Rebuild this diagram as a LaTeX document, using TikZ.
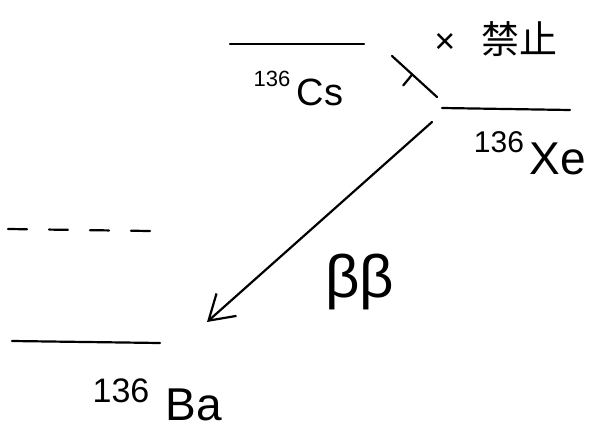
\documentclass[tikz,border=0pt]{standalone}
\usepackage{fontspec}
\setmainfont{Liberation Sans}
\newfontfamily\cjk{Noto Sans CJK SC}
\usetikzlibrary{arrows.meta,calc}
\begin{document}
\begin{tikzpicture}[x=1pt,y=-1pt,
  level/.style={line width=2.2pt,line cap=round},
  trans/.style={line width=2.2pt,line cap=round},
  num/.style={inner sep=0pt,font=\fontsize{30}{30}\selectfont},
  elem/.style={inner sep=0pt,font=\fontsize{46}{46}\selectfont}]
\useasboundingbox (0,0) rectangle (596,433);
% levels
\coordinate (csL) at (230,44);  \coordinate (csR) at (364,44);
\coordinate (xeL) at (442,108); \coordinate (xeR) at (570,110);
\coordinate (dL) at (8,229);    \coordinate (dR) at (150,231);
\coordinate (baL) at (12,341);  \coordinate (baR) at (160,343);
\draw[level] (csL) -- (csR);
\draw[level] (xeL) -- (xeR);
\draw[level,dash pattern=on 19pt off 22pt] (dL) -- (dR);
\draw[level] (baL) -- (baR);
% labels
\node[num,font=\fontsize{22}{22}\selectfont] (csn) at (272,79) {136};
\node[elem,font=\fontsize{38}{38}\selectfont] (cse) at (320,92) {Cs};
\node[num] (xen) at (499,142) {136};
\node[elem] (xee) at (558,159) {Xe};
\node[num,font=\fontsize{34}{34}\selectfont] (ban) at (121,391) {136};
\node[elem] (bae) at (194,405) {Ba};
% forbidden transition
\coordinate (fS) at (437,97); \coordinate (fE) at (392,56);
\draw[trans] (fS) -- (fE);
\coordinate (fH) at ($(fS)!0.55!(fE)$);
\draw[trans] (fH) -- ++(-9,11);
\node[inner sep=0pt,font=\fontsize{36}{36}\selectfont] (x) at (445,43) {×};
\node[inner sep=0pt,font=\cjk\fontsize{38}{38}\selectfont] (forb) at (519,39) {禁止};
% double beta
\coordinate (bbS) at (432,122); \coordinate (bbE) at (207,322);
\draw[trans,-{Straight Barb[length=24pt,width=30pt,line width=2.2pt]}] (bbS) -- (bbE);
\node[inner sep=0pt,font=\fontsize{60}{60}\selectfont] (bb) at (360,282) {ββ};
\end{tikzpicture}
\end{document}
